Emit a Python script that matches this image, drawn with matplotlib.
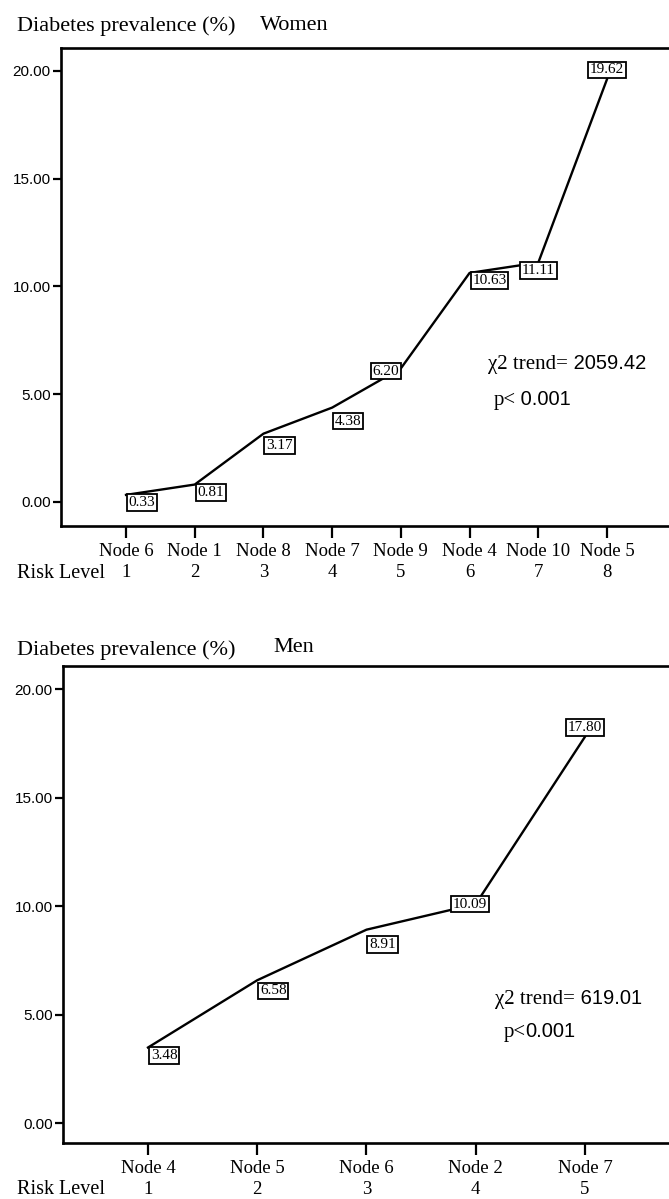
import matplotlib
matplotlib.use("Agg")
import matplotlib.pyplot as plt
from matplotlib.transforms import offset_copy

# ---------------- data ----------------
women_nodes = ["Node 6", "Node 1", "Node 8", "Node 7", "Node 9", "Node 4", "Node 10", "Node 5"]
women_levels = [1, 2, 3, 4, 5, 6, 7, 8]
women_prev = [0.33, 0.81, 3.17, 4.38, 6.20, 10.63, 11.11, 19.62]
women_labels = ["0.33", "0.81", "3.17", "4.38", "6.20", "10.63", "11.11", "19.62"]

men_nodes = ["Node 4", "Node 5", "Node 6", "Node 2", "Node 7"]
men_levels = [1, 2, 3, 4, 5]
men_prev = [3.48, 6.58, 8.91, 10.09, 17.80]
men_labels = ["3.48", "6.58", "8.91", "10.09", "17.80"]

y_ticks = [0, 5, 10, 15, 20]
y_ticklabels = ["0.00", "5.00", "10.00", "15.00", "20.00"]

W, H = 669, 1199
SERIF = "Liberation Serif"
SANS = "Liberation Sans"

fig = plt.figure(figsize=(W / 100, H / 100), dpi=100)


def fx(px):
    return px / W


def fy(py):
    return 1 - py / H


def make_axes(left, top, bottom):
    ax = fig.add_axes([fx(left), fy(bottom), 1 - fx(left), (bottom - top) / H])
    ax.spines["right"].set_visible(False)
    for s in ("left", "top", "bottom"):
        ax.spines[s].set_linewidth(1.9)
    ax.tick_params(axis="x", direction="out", length=8.5, width=1.6, pad=3.5)
    ax.tick_params(axis="y", direction="out", length=5.5, width=1.6, pad=2)
    ax.tick_params(top=False, right=False)
    return ax


# label placement styles: (dx, dy, ha, va) in points
def place_labels(ax, xs, ys, labels, styles):
    for x, y, lab, (dx, dy, ha, va) in zip(xs, ys, labels, styles):
        ax.annotate(lab, (x, y), xytext=(dx, dy), textcoords="offset points",
                    ha=ha, va=va, fontsize=11, family=SERIF, annotation_clip=False,
                    bbox=dict(boxstyle="square,pad=0.12", fc="white", ec="black", lw=1.3))


def xtick_setup(ax, nodes, levels, risk_y_px):
    ax.set_xticks(levels)
    ax.set_xticklabels([f"{n}\n{l}" for n, l in zip(nodes, levels)],
                       family=SERIF, fontsize=13.5, linespacing=1.3)
    fig.text(fx(17), fy(risk_y_px), "Risk Level", family=SERIF, fontsize=14.5,
             ha="left", va="center")


def ytick_setup(ax):
    ax.set_yticks(y_ticks)
    ax.set_yticklabels(y_ticklabels, family=SANS, fontsize=11)


renderer = fig.canvas.get_renderer()


def stat_text(ax, x, y, serif_part, sans_part):
    t = ax.text(x, y, serif_part, transform=ax.transAxes, family=SERIF,
                fontsize=15, ha="left", va="baseline")
    bb = t.get_window_extent(renderer=renderer)
    tr = offset_copy(ax.transAxes, fig=fig, x=bb.width, y=0, units="dots")
    ax.text(x, y, sans_part, transform=tr, family=SANS, fontsize=14.5,
            ha="left", va="baseline")


# ---------------- Women ----------------
ax1 = make_axes(61, 48, 526)
ax1.plot(women_levels, women_prev, color="black", lw=1.7, zorder=2)
ax1.set_xlim(0.054, 8.902)
ax1.set_ylim(-1.114, 21.067)
ytick_setup(ax1)
xtick_setup(ax1, women_nodes, women_levels, 574)
w_styles = [(2, -1, "left", "top"), (2, -1, "left", "top"), (2, -4, "left", "top"),
            (2, -5, "left", "top"), (-1, -2, "right", "center"), (2, -1, "left", "top"),
            (0, -1, "center", "top"), (0, 2, "center", "bottom")]
place_labels(ax1, women_levels, women_prev, women_labels, w_styles)
stat_text(ax1, 0.702, 0.328, "χ2 trend=", " 2059.42")
stat_text(ax1, 0.711, 0.253, "p<", " 0.001")
fig.text(fx(17), fy(26), "Diabetes prevalence (%)", family=SERIF, fontsize=16,
         ha="left", va="center")
fig.text(fx(260), fy(26), "Women", family=SERIF, fontsize=16, ha="left", va="center")

# ---------------- Men ----------------
ax2 = make_axes(63, 666, 1143)
ax2.plot(men_levels, men_prev, color="black", lw=1.7, zorder=2)
ax2.set_xlim(0.222, 5.769)
ax2.set_ylim(-0.92, 21.06)
ytick_setup(ax2)
xtick_setup(ax2, men_nodes, men_levels, 1190)
m_styles = [(2, -1, "left", "top"), (2, -3, "left", "top"), (2, -6, "left", "top"),
            (-4, 0, "center", "center"), (0, 2, "center", "bottom")]
place_labels(ax2, men_levels, men_prev, men_labels, m_styles)
stat_text(ax2, 0.713, 0.291, "χ2 trend=", " 619.01")
stat_text(ax2, 0.727, 0.222, "p<", "0.001")
fig.text(fx(17), fy(650), "Diabetes prevalence (%)", family=SERIF, fontsize=16,
         ha="left", va="center")
fig.text(fx(273), fy(648), "Men", family=SERIF, fontsize=16, ha="left", va="center")

fig.savefig("out.png", dpi=100)
